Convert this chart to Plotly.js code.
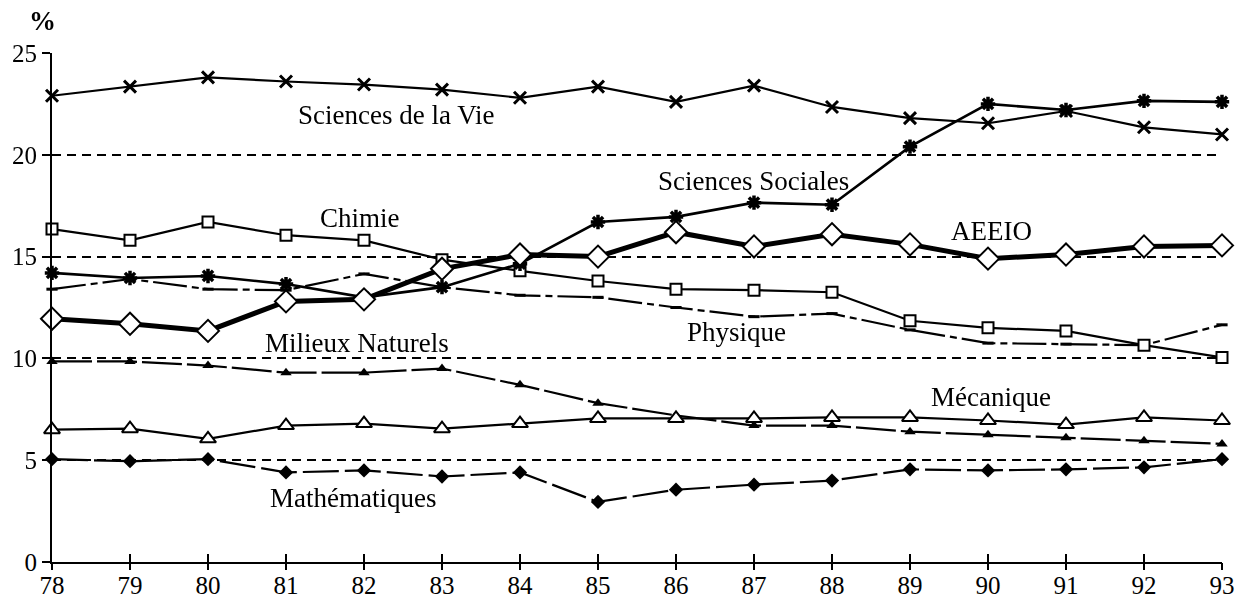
<!DOCTYPE html>
<html>
<head>
<meta charset="utf-8">
<script src="https://cdn.plot.ly/plotly-3.0.1.min.js"></script>
<style>html,body{margin:0;padding:0;background:#fff;}#chart{width:1241px;height:605px;}</style>
</head>
<body>
<div id="chart"></div>
<script>
var years = [78,79,80,81,82,83,84,85,86,87,88,89,90,91,92,93];
var yTicks = [0,5,10,15,20,25];

var sciencesVie      = [22.9,23.35,23.8,23.6,23.45,23.2,22.8,23.35,22.6,23.4,22.35,21.8,21.55,22.15,21.35,21.0];
var sciencesSociales = [14.2,13.95,14.05,13.65,13.0,13.5,14.65,16.7,16.95,17.65,17.55,20.4,22.5,22.2,22.65,22.6];
var chimie           = [16.35,15.8,16.7,16.05,15.8,14.85,14.3,13.8,13.4,13.35,13.25,11.85,11.5,11.35,10.65,10.05];
var aeeio            = [11.95,11.7,11.35,12.8,12.9,14.4,15.1,15.0,16.2,15.5,16.1,15.6,14.9,15.1,15.5,15.55];
var physique         = [13.4,13.9,13.4,13.35,14.15,13.5,13.1,13.0,12.5,12.05,12.2,11.4,10.75,10.7,10.65,11.65];
var milieuxNaturels  = [9.85,9.85,9.65,9.3,9.3,9.5,8.7,7.8,7.2,6.7,6.7,6.4,6.25,6.1,5.95,5.8];
var mecanique        = [6.5,6.55,6.05,6.7,6.8,6.55,6.8,7.05,7.05,7.05,7.1,7.1,6.95,6.75,7.1,6.95];
var mathematiques    = [5.05,4.95,5.05,4.4,4.5,4.2,4.4,2.95,3.55,3.8,4.0,4.55,4.5,4.55,4.65,5.05];

var labels = [
  {text:'Sciences de la Vie', x:82.42, y:21.95},
  {text:'Sciences Sociales',  x:86.99, y:18.7},
  {text:'Chimie',             x:81.95, y:16.9},
  {text:'AEEIO',              x:90.04, y:16.25},
  {text:'Milieux Naturels',   x:81.91, y:10.75},
  {text:'Physique',           x:86.77, y:11.3},
  {text:'Mécanique',          x:90.04, y:8.1},
  {text:'Mathématiques',      x:81.86, y:3.15}
];

var FONT = '"Liberation Serif", "Times New Roman", Times, serif';
function tr(y, opts){
  return {x:years, y:y, type:'scatter', mode:'lines+markers', cliponaxis:false,
          showlegend:false, hoverinfo:'skip',
          line:{color:'#000', width:opts.lw||2.2, dash:opts.dash||'solid'},
          marker:opts.marker};
}
var data = [
  tr(mathematiques,   {dash:'36px,6px', marker:{symbol:'diamond', size:11, color:'#000'}}),
  tr(milieuxNaturels, {dash:'40px,5px', marker:{symbol:'triangle-up', size:10, color:'#000'}}),
  tr(mecanique,       {marker:{symbol:'triangle-up', size:14, color:'#fff', line:{color:'#000', width:2}}}),
  tr(physique,        {dash:'34px,5px,7px,5px', marker:{symbol:'line-ew', size:8, color:'#000', line:{color:'#000', width:3}}}),
  tr(chimie,          {marker:{symbol:'square', size:11, color:'#fff', line:{color:'#000', width:2}}}),
  tr(sciencesVie,     {marker:{symbol:'x-thin', size:12, color:'#000', line:{color:'#000', width:3}}}),
  tr(sciencesSociales,{lw:2.6, marker:{symbol:'asterisk', size:12, color:'#000', line:{color:'#000', width:3.5}}}),
  tr(aeeio,           {lw:5, marker:{symbol:'diamond', size:17, color:'#fff', line:{color:'#000', width:2}}}),
  {x:years, y:mathematiques, xaxis:'x2', type:'scatter', mode:'markers', opacity:0, showlegend:false, hoverinfo:'skip'}
];

var annotations = labels.map(function(l){
  return {text:l.text, x:l.x, y:l.y, xref:'x', yref:'y', showarrow:false,
          font:{family:FONT, size:27, color:'#000'}, xanchor:'center', yanchor:'middle'};
});
annotations.push({text:'<b>%</b>', xref:'paper', yref:'paper', x:-0.0085, y:1.063, showarrow:false,
  font:{family:FONT, size:27, color:'#000'}, xanchor:'center', yanchor:'middle'});

var layout = {
  width:1241, height:605,
  margin:{l:52, r:19, t:53, b:43},
  paper_bgcolor:'#fff', plot_bgcolor:'#fff',
  showlegend:false,
  font:{family:FONT, color:'#000'},
  xaxis:{range:[78,93], tickvals:years, ticktext:years.map(String),
         showgrid:false, zeroline:false, showline:true, linecolor:'#000', linewidth:2,
         ticks:'inside', ticklen:8, tickwidth:2, tickcolor:'#000',
         tickfont:{family:FONT, size:25, color:'#000'}},
  xaxis2:{range:[78,93], overlaying:'x', anchor:'y', side:'bottom', tickvals:years, showticklabels:false,
          showgrid:false, zeroline:false, showline:false,
          ticks:'outside', ticklen:7, tickwidth:2, tickcolor:'#000'},
  yaxis:{range:[0,25], tickvals:yTicks, ticktext:yTicks.map(String),
         showgrid:true, gridcolor:'#000', gridwidth:2, griddash:'9px,6px',
         zeroline:false, showline:true, linecolor:'#000', linewidth:2,
         ticks:'outside', ticklen:8, tickwidth:2, tickcolor:'#000',
         tickfont:{family:FONT, size:25, color:'#000'}},
  annotations:annotations
};
Plotly.newPlot('chart', data, layout, {staticPlot:true, displayModeBar:false});
</script>
</body>
</html>
